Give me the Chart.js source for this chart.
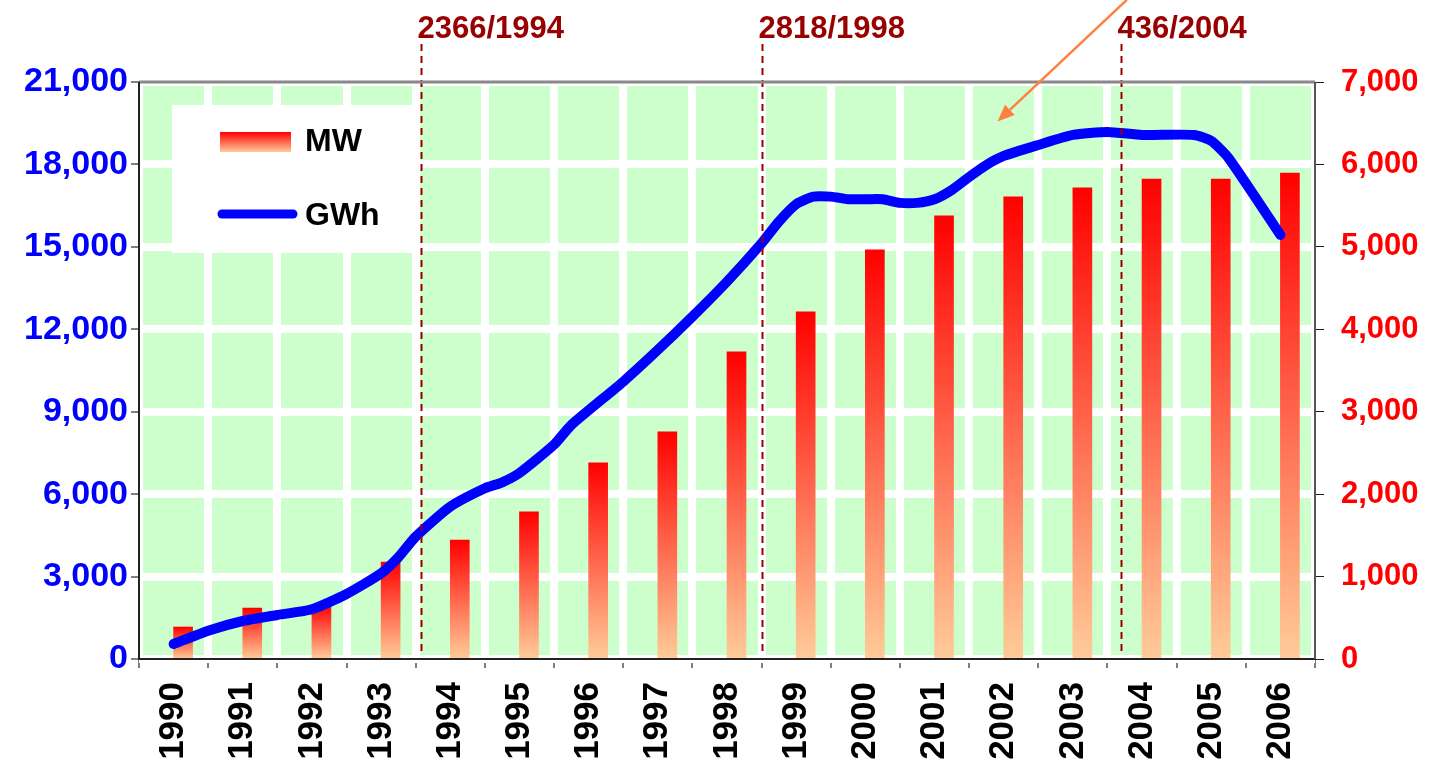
<!DOCTYPE html>
<html lang="es">
<head>
<meta charset="UTF-8" />
<title>MW / GWh 1990-2006</title>
<script src="https://cdn.jsdelivr.net/npm/chart.js"></script>
<style>
  html, body { margin: 0; padding: 0; background: #fff; overflow: hidden; }
  #wrap { width: 1432px; height: 760px; }
</style>
</head>
<body>
<div id="wrap"><canvas id="chart"></canvas></div>
<script>
// categorias y series
const years = ['1990','1991','1992','1993','1994','1995','1996','1997','1998','1999','2000','2001','2002','2003','2004','2005','2006'];
const mw = [388, 619, 655, 1177, 1444, 1784, 2379, 2755, 3726, 4211, 4964, 5376, 5607, 5716, 5822, 5822, 5894];

// GWh: puntos de la curva (año fraccional)
const gwhT = [1990, 1990.5, 1991, 1991.5, 1992, 1992.5, 1993, 1993.25, 1993.5, 1994, 1994.5, 1994.75,
  1995, 1995.5, 1995.75, 1996.5, 1997, 1997.5, 1998, 1998.5, 1998.75, 1999, 1999.25, 1999.5, 1999.75,
  2000, 2000.25, 2000.5, 2000.75, 2001, 2001.25, 2001.5, 2001.75, 2002, 2002.5, 2003, 2003.5, 2004,
  2004.75, 2005, 2005.25, 2006];
const gwhV = [546, 1030, 1383, 1602, 1809, 2366, 3119, 3702, 4452, 5544, 6213, 6430,
  6770, 7800, 8518, 10094, 11248, 12460, 13734, 15131, 15918, 16550, 16828, 16828, 16733,
  16733, 16733, 16600, 16600, 16733, 17072, 17545, 17982, 18309, 18710, 19074, 19183, 19074,
  19074, 18855, 18237, 15434];

// ticks
const leftTicks = [0, 3000, 6000, 9000, 12000, 15000, 18000, 21000];
const rightTicks = [0, 1000, 2000, 3000, 4000, 5000, 6000, 7000];

// decretos
const decreeT = [1993.58, 1998.5, 2003.7];
const decreeText = ['2366/1994', '2818/1998', '436/2004'];

// flecha (en coordenadas de datos: año, GWh)
const arrowFrom = [2003.78, 23990];
const arrowTo = [2001.91, 19560];

const FONT = "'Liberation Sans', Arial, sans-serif";
const fmt = v => Number(v).toLocaleString('en-US');

function barGradient(c) {
  const chart = c.chart;
  const s = chart.scales.yR;
  if (!s || c.type !== 'data') return '#FF0000';
  const top = s.getPixelForValue(c.raw);
  const base = s.getPixelForValue(0);
  if (!isFinite(top) || !isFinite(base) || top === base) return '#FF0000';
  const g = chart.ctx.createLinearGradient(0, top, 0, base);
  g.addColorStop(0, '#FF0000');
  g.addColorStop(1, '#FFCC99');
  return g;
}

const decor = {
  id: 'decor',
  beforeDraw(chart) {
    const { ctx, chartArea: a } = chart;
    ctx.save();
    ctx.fillStyle = '#CCFFCC';
    ctx.fillRect(a.left, a.top, a.right - a.left, a.bottom - a.top);
    ctx.restore();
  },
  beforeDatasetsDraw(chart) {
    // leyenda
    const ctx = chart.ctx;
    ctx.save();
    ctx.fillStyle = '#fff';
    ctx.fillRect(172, 105, 241, 148);
    const g = ctx.createLinearGradient(0, 132, 0, 152);
    g.addColorStop(0, '#FF0000');
    g.addColorStop(1, '#FFCC99');
    ctx.fillStyle = g;
    ctx.fillRect(220, 132, 71, 20);
    ctx.strokeStyle = '#0000FF';
    ctx.lineWidth = 9;
    ctx.lineCap = 'round';
    ctx.beginPath();
    ctx.moveTo(222, 214);
    ctx.lineTo(293, 214);
    ctx.stroke();
    ctx.fillStyle = '#000';
    ctx.font = 'bold 32px ' + FONT;
    ctx.textBaseline = 'middle';
    ctx.fillText('MW', 305, 142);
    ctx.fillText('GWh', 305, 216);
    ctx.restore();
  },
  afterDatasetsDraw(chart) {
    const { ctx, chartArea: a } = chart;
    const sx = chart.scales.xLine;
    ctx.save();
    ctx.strokeStyle = '#990000';
    ctx.fillStyle = '#990000';
    ctx.lineWidth = 2;
    ctx.setLineDash([7, 5]);
    ctx.font = 'bold 31px ' + FONT;
    ctx.textBaseline = 'alphabetic';
    decreeT.forEach((t, i) => {
      const x = Math.round(sx.getPixelForValue(t)) + 0.5;
      ctx.beginPath();
      ctx.moveTo(x, 44);
      ctx.lineTo(x, a.bottom - 8);
      ctx.stroke();
      ctx.fillText(decreeText[i], x - 4, 38);
    });
    ctx.restore();
  },
  afterDraw(chart) {
    const { ctx, chartArea: a } = chart;
    ctx.save();
    // ejes
    ctx.lineWidth = 3;
    ctx.strokeStyle = '#888';
    ctx.beginPath(); ctx.moveTo(a.left, a.top); ctx.lineTo(a.right, a.top); ctx.stroke();
    ctx.lineWidth = 2;
    ctx.strokeStyle = '#222';
    ctx.beginPath(); ctx.moveTo(a.left, a.top); ctx.lineTo(a.left, a.bottom); ctx.lineTo(a.right, a.bottom); ctx.stroke();
    ctx.strokeStyle = '#555';
    ctx.beginPath(); ctx.moveTo(a.right, a.top); ctx.lineTo(a.right, a.bottom); ctx.stroke();

    // flecha
    const sx = chart.scales.xLine, sy = chart.scales.yL;
    const x1 = sx.getPixelForValue(arrowFrom[0]), y1 = sy.getPixelForValue(arrowFrom[1]);
    const x2 = sx.getPixelForValue(arrowTo[0]), y2 = sy.getPixelForValue(arrowTo[1]);
    const ang = Math.atan2(y2 - y1, x2 - x1);
    const L = 17, W = 7;
    const bx = x2 - L * Math.cos(ang), by = y2 - L * Math.sin(ang);
    ctx.strokeStyle = '#FF8040';
    ctx.fillStyle = '#FF8040';
    ctx.lineWidth = 2.5;
    ctx.beginPath(); ctx.moveTo(x1, y1); ctx.lineTo(bx, by); ctx.stroke();
    ctx.beginPath();
    ctx.moveTo(x2, y2);
    ctx.lineTo(bx + W * Math.sin(ang), by - W * Math.cos(ang));
    ctx.lineTo(bx - W * Math.sin(ang), by + W * Math.cos(ang));
    ctx.closePath();
    ctx.fill();
    ctx.restore();
  }
};

new Chart(document.getElementById('chart'), {
  data: {
    labels: years,
    datasets: [
      {
        type: 'line',
        label: 'GWh',
        data: gwhT.map((t, i) => ({ x: t, y: gwhV[i] })),
        xAxisID: 'xLine',
        yAxisID: 'yL',
        borderColor: '#0000FF',
        borderWidth: 10,
        pointRadius: 0,
        tension: 0.2,
        borderCapStyle: 'round',
        borderJoinStyle: 'round',
        order: 0
      },
      {
        type: 'bar',
        label: 'MW',
        data: mw,
        xAxisID: 'x',
        yAxisID: 'yR',
        backgroundColor: barGradient,
        barThickness: 19,
        order: 1
      }
    ]
  },
  options: {
    responsive: true,
    maintainAspectRatio: false,
    animation: false,
    layout: { padding: { top: 82, left: 0, right: 0, bottom: 0 } },
    plugins: { legend: { display: false }, tooltip: { enabled: false } },
    scales: {
      x: {
        type: 'category',
        offset: true,
        border: { display: false },
        grid: { offset: true, color: '#fff', lineWidth: 8, tickColor: '#000', tickWidth: 1, tickLength: 9 },
        ticks: {
          autoSkip: false, minRotation: 90, maxRotation: 90, padding: 14, color: '#000',
          font: { family: FONT, size: 35, weight: 'bold' }
        },
        afterFit: s => { s.height = 101; }
      },
      xLine: {
        type: 'linear',
        display: false,
        min: 1989.5,
        max: 2006.5
      },
      yL: {
        type: 'linear',
        position: 'left',
        min: leftTicks[0],
        max: leftTicks[leftTicks.length - 1],
        border: { display: false },
        grid: { color: '#fff', lineWidth: 8, tickColor: '#000', tickWidth: 1, tickLength: 8 },
        ticks: {
          stepSize: leftTicks[1] - leftTicks[0], padding: 3, color: '#0000FF',
          font: { family: FONT, size: 34, weight: 'bold' },
          callback: fmt
        },
        afterFit: s => { s.width = 139; }
      },
      yR: {
        type: 'linear',
        position: 'right',
        min: rightTicks[0],
        max: rightTicks[rightTicks.length - 1],
        border: { display: false },
        grid: { drawOnChartArea: false, tickColor: '#222', tickWidth: 1, tickLength: 9 },
        ticks: {
          stepSize: rightTicks[1] - rightTicks[0], padding: 17, color: '#FF0000',
          font: { family: FONT, size: 31, weight: 'bold' },
          callback: fmt
        },
        afterFit: s => { s.width = 117; }
      }
    }
  },
  plugins: [decor]
});
</script>
</body>
</html>
